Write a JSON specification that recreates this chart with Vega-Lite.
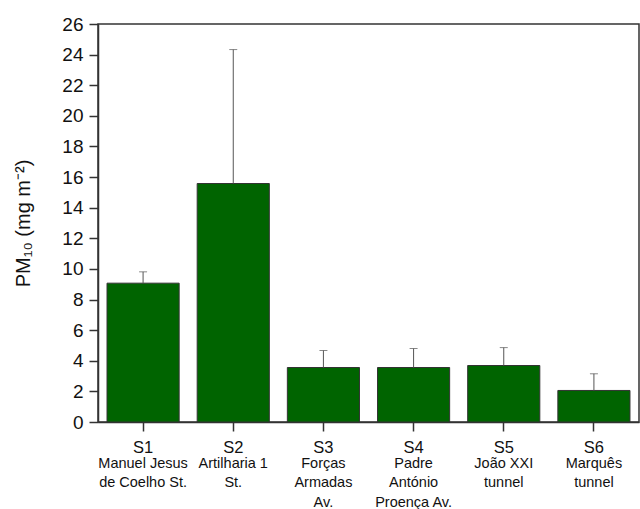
{
  "$schema": "https://vega.github.io/schema/vega-lite/v6.json",
  "width": 541,
  "height": 398,
  "autosize": "none",
  "padding": {"left": 98, "top": 24, "right": 1, "bottom": 87},
  "background": "#ffffff",
  "config": {
    "view": {"stroke": "#333333", "strokeWidth": 1.5},
    "font": "Liberation Sans",
    "axis": {"grid": false, "labelFont": "Liberation Sans", "titleFont": "Liberation Sans", "labelColor": "#111111", "titleColor": "#111111"}
  },
  "data": {
    "values": [
      {"site": "S1", "name": "Manuel Jesus|de Coelho St.", "pm": 9.07, "upper": 9.81},
      {"site": "S2", "name": "Artilharia 1|St.", "pm": 15.58, "upper": 24.33},
      {"site": "S3", "name": "Forças|Armadas|Av.", "pm": 3.56, "upper": 4.67},
      {"site": "S4", "name": "Padre|António|Proença Av.", "pm": 3.56, "upper": 4.8},
      {"site": "S5", "name": "João XXI|tunnel", "pm": 3.69, "upper": 4.86},
      {"site": "S6", "name": "Marquês|tunnel", "pm": 2.06, "upper": 3.15}
    ]
  },
  "encoding": {
    "y": {
      "type": "quantitative",
      "scale": {"domain": [0, 26], "nice": false, "zero": true},
      "axis": {"values": [0, 2, 4, 6, 8, 10, 12, 14, 16, 18, 20, 22, 24, 26], "labelOverlap": false, "labelBound": false, "labelFontSize": 19, "labelColor": "#111111", "tickSize": 9, "tickColor": "#333333", "tickWidth": 1.5, "domainColor": "#333333", "domainWidth": 1.5, "labelPadding": 6, "title": "PM₁₀ (mg m⁻²)", "titleFontSize": 20, "titleFontWeight": "normal", "titlePadding": 28}
    }
  },
  "layer": [
    {
      "mark": {"type": "bar", "color": "#006400", "stroke": "#333333", "strokeWidth": 1},
      "encoding": {
        "x": {
          "field": "site", "type": "nominal", "sort": null,
          "scale": {"type": "band", "paddingInner": 0.2, "paddingOuter": 0.1},
          "axis": {"orient": "bottom", "title": null, "labelAngle": 0, "labelFontSize": 16.5, "tickSize": 9, "tickColor": "#333333", "tickWidth": 1.5, "domainColor": "#333333", "domainWidth": 1.5, "labelPadding": 8}
        },
        "y": {"field": "pm"}
      }
    },
    {
      "mark": {"type": "rule", "color": "#555555", "strokeWidth": 1},
      "encoding": {
        "x": {
          "field": "name", "type": "nominal", "sort": null,
          "scale": {"type": "band", "paddingInner": 0.2, "paddingOuter": 0.1},
          "axis": {"orient": "bottom", "title": null, "labelAngle": 0, "labelFontSize": 14.5, "ticks": false, "tickSize": 0, "domain": false, "labelPadding": 34, "labelLineHeight": 19.5, "labelExpr": "split(datum.value, '|')", "labelBaseline": "top"}
        },
        "y": {"field": "pm"},
        "y2": {"field": "upper"}
      }
    },
    {
      "mark": {"type": "tick", "color": "#555555", "thickness": 1, "size": 8, "orient": "horizontal"},
      "encoding": {
        "x": {
          "field": "site", "type": "nominal", "sort": null,
          "scale": {"type": "band", "paddingInner": 0.2, "paddingOuter": 0.1},
          "axis": null
        },
        "y": {"field": "upper"}
      }
    }
  ],
  "resolve": {"scale": {"x": "independent"}, "axis": {"x": "independent"}}
}
